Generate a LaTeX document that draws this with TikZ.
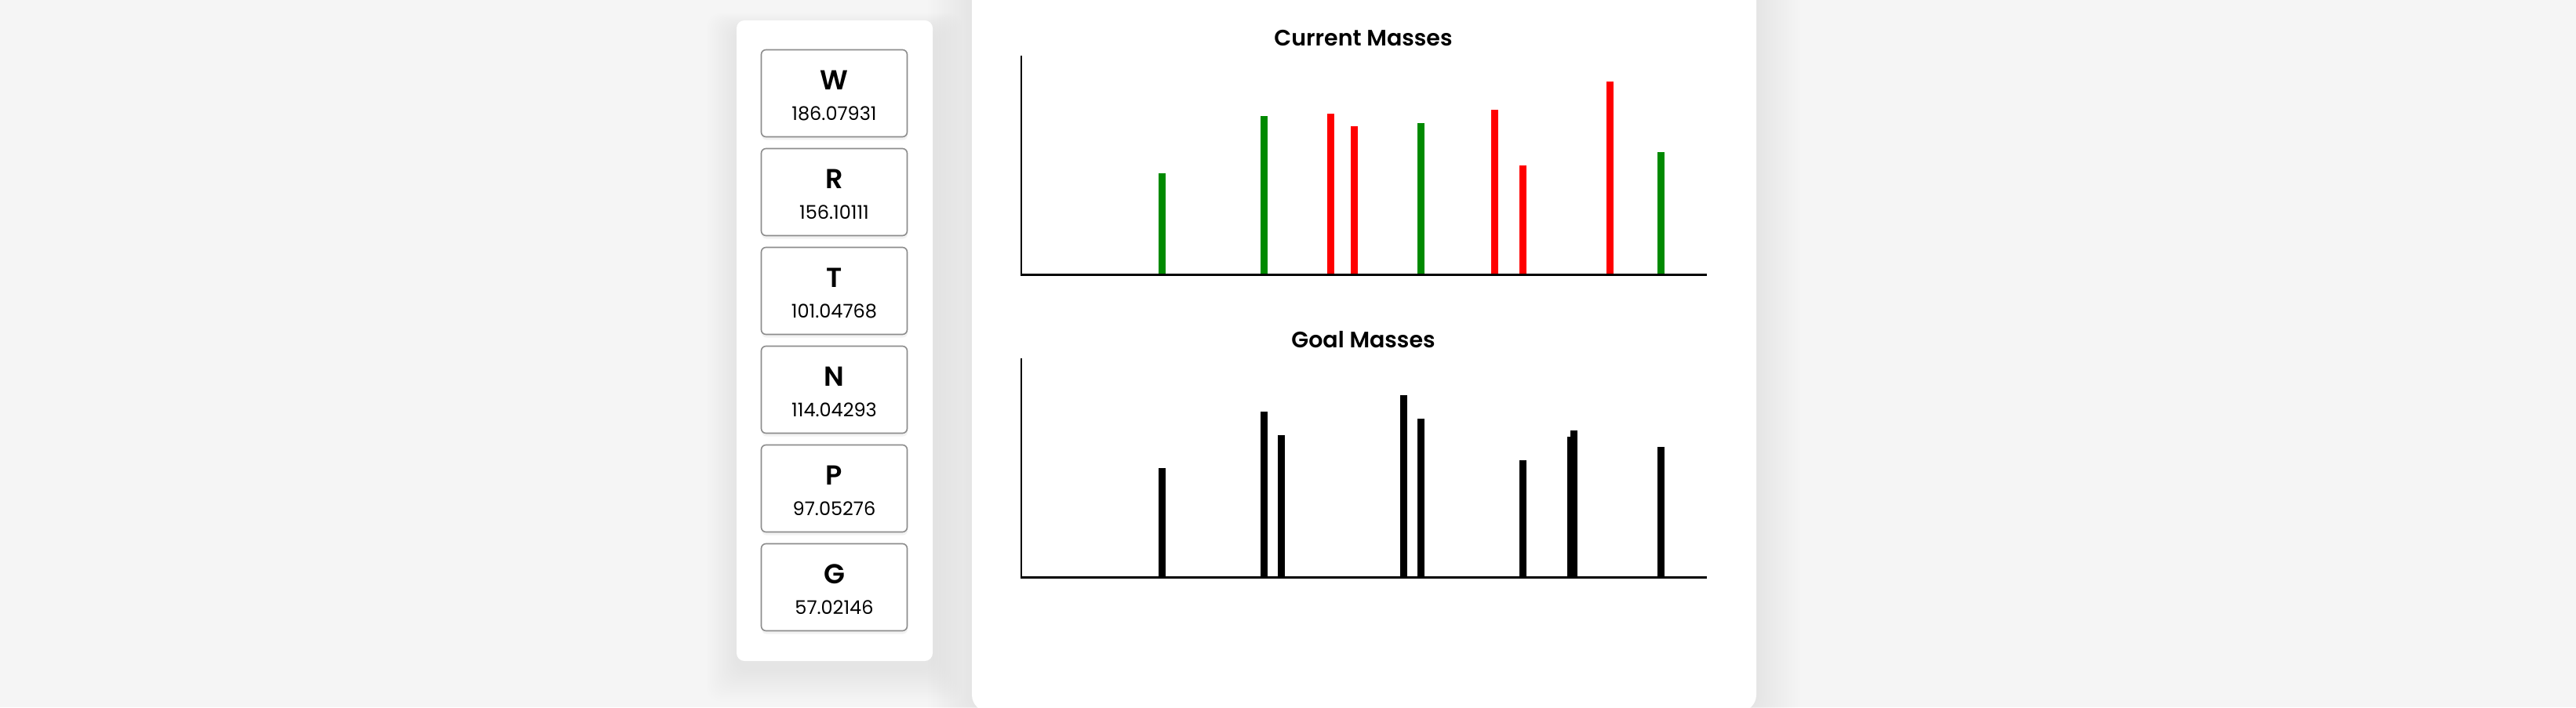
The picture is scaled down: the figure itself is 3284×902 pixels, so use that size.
\documentclass[tikz,border=0pt]{standalone}
\usepackage{fontspec}
\setmainfont{Poppins}[BoldFont={Poppins SemiBold}]
\definecolor{pagebg}{HTML}{F5F5F5}
\definecolor{boxline}{HTML}{8C8C8C}
\definecolor{massgreen}{HTML}{008A00}
\definecolor{massred}{HTML}{FF0000}
\begin{document}
\begin{tikzpicture}[x=1pt,y=-1pt,
  massbox/.style={draw=boxline, line width=1.6pt, rounded corners=6pt, fill=white,
    minimum width=186pt, minimum height=111pt, inner sep=0pt},
  letter/.style={anchor=base, font=\fontsize{35}{35}\selectfont\bfseries, inner sep=0pt},
  massval/.style={anchor=base, font=\fontsize{24}{24}\selectfont, inner sep=0pt},
  charttitle/.style={anchor=base, font=\fontsize{28.5}{28.5}\selectfont\bfseries, inner sep=0pt},
  axisline/.style={line width=2.6pt, black},
  gbar/.style={fill=massgreen},
  rbar/.style={fill=massred},
  kbar/.style={fill=black}]
\fill[pagebg] (0,0) rectangle (3284,902);
\useasboundingbox (0,0) rectangle (3284,902);
% soft shadows
\foreach \i in {1,...,16}{
  \fill[black, opacity=0.0045, rounded corners=18pt]
    (939-2.4*\i, 26-1.2*\i+10) rectangle (1189+2.4*\i, 843+2.6*\i+10);
  \fill[black, opacity=0.0055, rounded corners=24pt]
    (1239-3.5*\i, -60) rectangle (2239+3.5*\i, 906+2*\i);
}
% left panel
\fill[white, rounded corners=10pt] (939,26) rectangle (1189,843);
% right card
\fill[white, rounded corners=22pt] (1239,-60) rectangle (2239,908);
% mass boxes
\foreach \nm/\lt/\val [count=\k from 0] in {w/W/186.07931, r/R/156.10111, t/T/101.04768, n/N/114.04293, p/P/97.05276, g/G/57.02146}{
  \begin{scope}
  \fill[black, opacity=0.05, rounded corners=6pt] (971,63.5+126*\k+3) rectangle (1157,174.5+126*\k+4);
  \node[massbox] (box\nm) at (1063.5, 119+126*\k) {};
  \node[letter] (let\nm) at (1063.5, 63.5+126*\k+51) {\lt};
  \node[massval] (val\nm) at (1063.5, 63.5+126*\k+90) {\val};
  \end{scope}
}
% Current masses chart
\node[charttitle] (curtitle) at (1738, 58.7) {Current Masses};
\coordinate (cTop) at (1302, 70.8);
\coordinate (cOrig) at (1302, 350.4);
\coordinate (cEnd) at (2176, 350.4);
\foreach \x/\t/\s in {1481.1/221/gbar, 1611.2/148.4/gbar, 1696/145/rbar, 1726.6/161.1/rbar,
  1811.4/157.1/gbar, 1905.2/139.8/rbar, 1941.5/211.2/rbar, 2052.5/103.6/rbar, 2117.6/193.9/gbar}{
  \fill[\s] (\x-4.5, \t) rectangle (\x+4.5, 350.4);
}
\draw[axisline] (cTop) -- (cOrig) -- (cEnd);
% Goal masses chart
\node[charttitle] (goaltitle) at (1738, 443.6) {Goal Masses};
\coordinate (gTop) at (1302, 457.4);
\coordinate (gOrig) at (1302, 736.5);
\coordinate (gEnd) at (2176, 736.5);
\foreach \x/\t in {1481.1/597.2, 1611.2/524.7, 1633/554.7, 1789.7/503.5, 1811.4/534,
  1941.5/586.9, 2002.2/556.7, 2006.8/549.3, 2117.6/569.6}{
  \fill[kbar] (\x-4.5, \t) rectangle (\x+4.5, 736.5);
}
\draw[axisline] (gTop) -- (gOrig) -- (gEnd);
\end{tikzpicture}
\end{document}
